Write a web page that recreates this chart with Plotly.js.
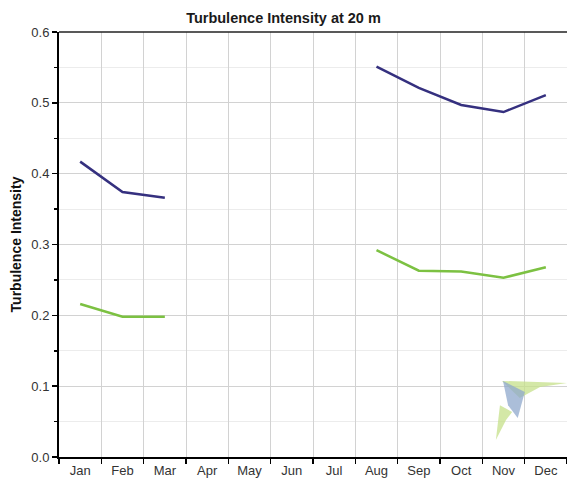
<!DOCTYPE html>
<html>
<head>
<meta charset="utf-8">
<script src="https://cdn.plot.ly/plotly-3.0.1.min.js"></script>
<style>html,body{margin:0;padding:0;background:#fff;}#chart{width:567px;height:481px;}</style>
</head>
<body>
<div id="chart"></div>
<script>
const months = ["Jan","Feb","Mar","Apr","May","Jun","Jul","Aug","Sep","Oct","Nov","Dec"];
const tiUpper = [0.417, 0.374, 0.366, null, null, null, null, 0.551, 0.521, 0.497, 0.487, 0.511];
const tiLower = [0.216, 0.198, 0.198, null, null, null, null, 0.292, 0.263, 0.262, 0.253, 0.268];
const yTicks = [0.0, 0.1, 0.2, 0.3, 0.4, 0.5, 0.6];
const yTickText = ["0.0","0.1","0.2","0.3","0.4","0.5","0.6"];

const traces = [
  {x: months, y: tiUpper, type: "scatter", mode: "lines", connectgaps: false,
   line: {color: "#35307f", width: 2.5}, hoverinfo: "skip"},
  {x: months, y: tiLower, type: "scatter", mode: "lines", connectgaps: false,
   line: {color: "#7cc142", width: 2.5}, hoverinfo: "skip"}
];

function poly(pts){ return "M" + pts.map(p => p[0] + "," + p[1]).join(" L") + " Z"; }

const layout = {
  width: 567, height: 481,
  margin: {l: 59, r: 0, t: 32, b: 24},
  paper_bgcolor: "#ffffff", plot_bgcolor: "#ffffff",
  showlegend: false,
  font: {family: "Liberation Sans, Arial, sans-serif", size: 13, color: "#333"},
  title: {text: "<b>Turbulence Intensity at 20 m</b>", font: {size: 14.5, color: "#1a1a1a", family: "Liberation Sans, Arial, sans-serif"},
          x: 0.5, xref: "container", y: 0.962, yref: "container", yanchor: "middle"},
  xaxis: {type: "category", categoryorder: "array", categoryarray: months, range: [-0.5, 11.5],
          tickson: "boundaries", ticks: "outside", ticklen: 5, tickcolor: "#000", tickwidth: 1.5,
          showgrid: true, gridcolor: "#d2d2d2", gridwidth: 1,
          showline: true, linecolor: "#000", linewidth: 2, mirror: false,
          tickfont: {size: 13, color: "#333"}, fixedrange: true, zeroline: false},
  yaxis: {range: [0, 0.6], tickmode: "array", tickvals: yTicks, ticktext: yTickText,
          ticks: "outside", ticklen: 5, tickcolor: "#000", tickwidth: 1.5,
          showgrid: true, gridcolor: "#d2d2d2", gridwidth: 1,
          minor: {dtick: 0.05, showgrid: true, gridcolor: "#ececec", ticks: "outside", ticklen: 3, tickcolor: "#000"},
          showline: true, linecolor: "#000", linewidth: 2, zeroline: false,
          tickfont: {size: 13, color: "#333"},
          title: {text: "<b>Turbulence Intensity</b>", font: {size: 14, color: "#111"}, standoff: 6},
          fixedrange: true},
  shapes: [
    {type: "line", xref: "paper", yref: "paper", x0: 0, x1: 1, y0: 1, y1: 1, line: {color: "#222", width: 1.5}},
    {type: "path", xref: "paper", yref: "paper", layer: "above", opacity: 0.75,
     path: poly([[0.872,0.179],[1.0,0.174],[0.947,0.165],[0.907,0.139]]), fillcolor: "#c5e08a", line: {width: 0}},
    {type: "path", xref: "paper", yref: "paper", layer: "above", opacity: 0.75,
     path: poly([[0.874,0.179],[0.917,0.153],[0.903,0.092],[0.884,0.122]]), fillcolor: "#8fa8cc", line: {width: 0}},
    {type: "path", xref: "paper", yref: "paper", layer: "above", opacity: 0.75,
     path: poly([[0.860,0.040],[0.868,0.122],[0.892,0.106],[0.880,0.087]]), fillcolor: "#c5e08a", line: {width: 0}}
  ]
};

Plotly.newPlot("chart", traces, layout, {staticPlot: true, displayModeBar: false});
</script>
</body>
</html>
